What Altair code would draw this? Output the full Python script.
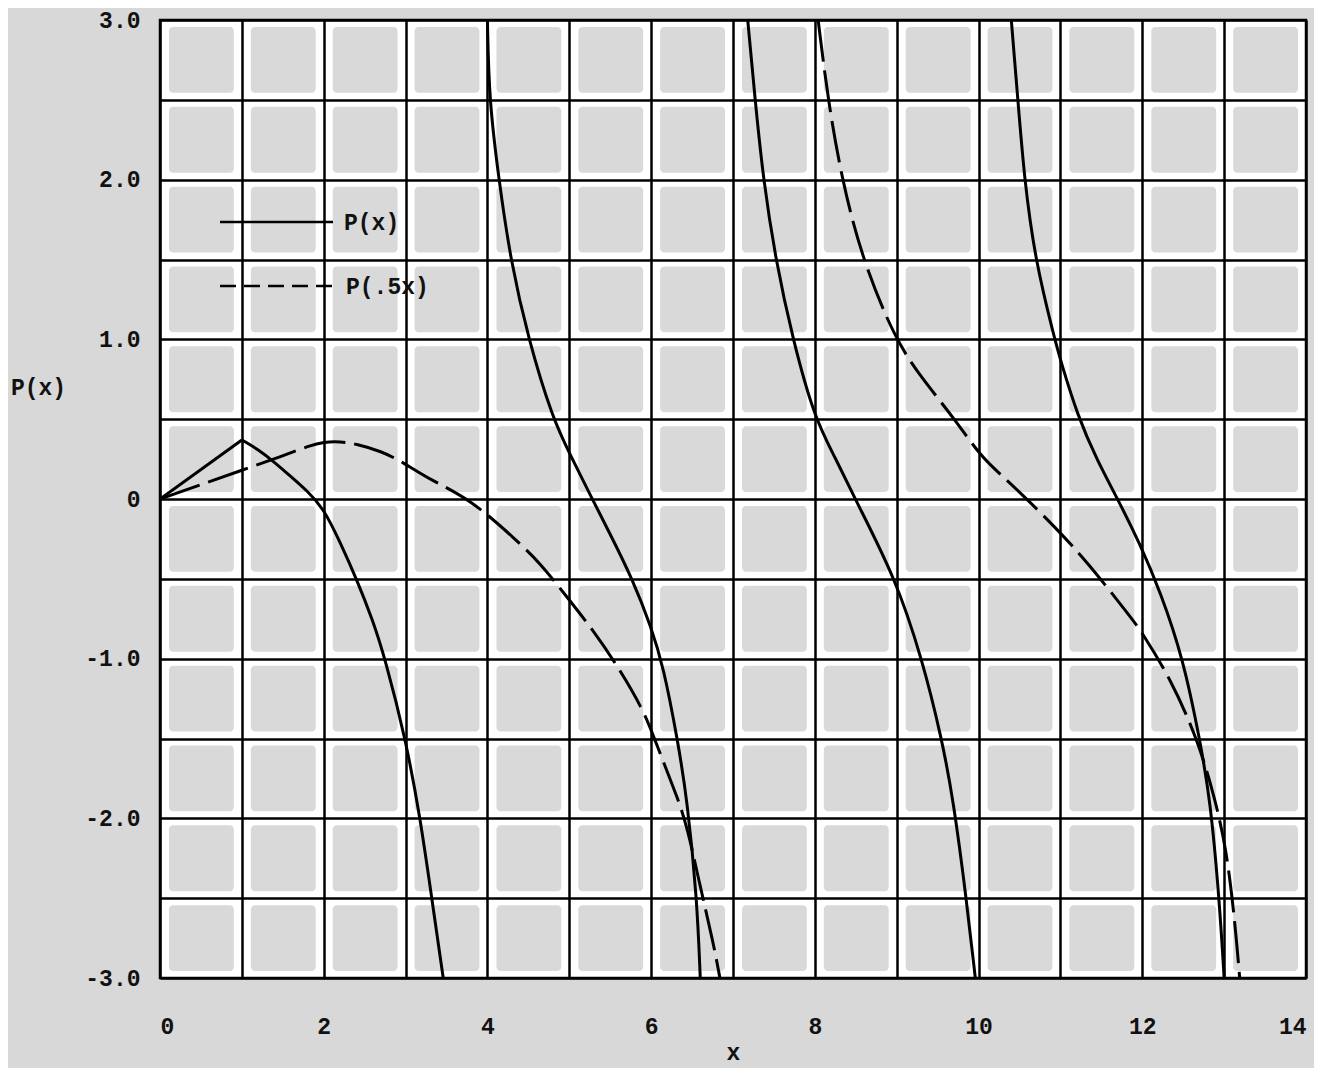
import altair as alt
import pandas as pd

# ---------------- data ----------------
# P(x)  (solid curve), one pair of lists per branch
px_b1_x = [0.0, 1.0]
px_b1_y = [0.0, 0.37]
px_b2_x = [1.0, 1.2, 1.4, 1.6, 1.8, 2.0, 2.2, 2.4, 2.6, 2.75, 3.0, 3.18, 3.32, 3.46]
px_b2_y = [0.37, 0.31, 0.23, 0.14, 0.05, -0.06, -0.27, -0.5, -0.76, -1.0, -1.5, -2.0, -2.5, -3.0]
px_b3_x = [4.0, 4.02, 4.14, 4.28, 4.5, 4.8, 5.0, 5.28, 5.5, 5.77, 6.0, 6.15, 6.32, 6.44, 6.56, 6.6]
px_b3_y = [3.0, 2.5, 2.0, 1.5, 1.0, 0.5, 0.29, 0.0, -0.22, -0.5, -0.8, -1.05, -1.5, -1.88, -2.5, -3.0]
px_b4_x = [7.18, 7.27, 7.37, 7.52, 7.73, 8.0, 8.25, 8.49, 8.98, 9.31, 9.55, 9.69, 9.85, 9.96]
px_b4_y = [3.0, 2.5, 2.0, 1.5, 1.0, 0.5, 0.26, 0.0, -0.49, -1.0, -1.5, -1.88, -2.5, -3.0]
px_b5_x = [10.4, 10.48, 10.56, 10.69, 10.93, 11.0, 11.21, 11.45, 11.7, 11.97, 12.22, 12.5, 12.7, 12.83, 12.94, 13.0]
px_b5_y = [3.0, 2.5, 2.0, 1.5, 1.0, 0.87, 0.52, 0.24, 0.0, -0.28, -0.58, -1.0, -1.5, -1.88, -2.5, -3.0]

# P(.5x)  (dashed curve)
ph_b1_x = [0.0, 0.5, 1.0, 1.5, 1.83, 2.0, 2.2, 2.4, 2.7, 2.97, 3.3, 3.79, 4.36, 4.64, 4.92,
           5.29, 5.62, 5.9, 6.01, 6.19, 6.32, 6.44, 6.6, 6.76, 6.84]
ph_b1_y = [0.0, 0.09, 0.18, 0.27, 0.335, 0.357, 0.36, 0.345, 0.3, 0.23, 0.12, 0.0, -0.26, -0.4, -0.58,
           -0.82, -1.07, -1.32, -1.46, -1.7, -1.87, -2.05, -2.43, -2.78, -3.0]
ph_b2_x = [8.04, 8.16, 8.33, 8.58, 8.98, 9.3, 9.71, 10.02, 10.3, 10.59, 10.96, 11.32, 11.89, 12.0,
           12.34, 12.68, 12.89, 13.03, 13.13, 13.19]
ph_b2_y = [3.0, 2.5, 2.0, 1.5, 1.0, 0.76, 0.5, 0.27, 0.14, 0.0, -0.19, -0.39, -0.76, -0.84,
           -1.12, -1.51, -1.88, -2.2, -2.64, -3.0]

# axis ticks / grid
x_grid = list(range(0, 15))
y_grid = [-3.0, -2.5, -2.0, -1.5, -1.0, -0.5, 0.0, 0.5, 1.0, 1.5, 2.0, 2.5, 3.0]
legend_labels = ["P(x)", "P(.5x)"]

# ---------------- tables ----------------
def frame(xs, ys, seg):
    return pd.DataFrame({"x": xs, "y": ys, "seg": seg})

solid_straight = frame(px_b1_x, px_b1_y, "a")
solid = pd.concat([
    frame(px_b2_x, px_b2_y, "b"),
    frame(px_b3_x, px_b3_y, "c"), frame(px_b4_x, px_b4_y, "d"),
    frame(px_b5_x, px_b5_y, "e"),
])
dashed = pd.concat([frame(ph_b1_x, ph_b1_y, "a"), frame(ph_b2_x, ph_b2_y, "b")])

cells = pd.DataFrame(
    [{"x": gx, "x2": gx + 1, "y": gy, "y2": gy + 0.5}
     for gx in x_grid[:-1] for gy in y_grid[:-1]]
)

# ---------------- styling ----------------
FONT = "Liberation Mono"
FS = 23
W, H = 1146, 958
xs = alt.Scale(domain=[0, 14], nice=False, zero=False)
ys = alt.Scale(domain=[-3, 3], nice=False, zero=False)

x_axis = alt.Axis(
    values=x_grid, format="d",
    labelExpr="datum.value % 2 == 0 ? datum.label : ''",
    grid=True, ticks=False, domain=False, labelPadding=37,
    title="x", titleY=81, titleBaseline="alphabetic",
)
y_axis = alt.Axis(
    values=y_grid,
    labelExpr="datum.value % 1 != 0 ? '' : (datum.value == 0 ? '0' : "
              "(datum.value < 0 ? '-' : '') + format(abs(datum.value), '.1f'))",
    grid=True, ticks=False, domain=False, labelPadding=20,
    title="P(x)", titleAngle=0, titleX=-122, titleY=367,
    titleAlign="center", titleBaseline="middle",
)

def X(field="x"):
    return alt.X(f"{field}:Q", scale=xs, axis=x_axis)

def Y(field="y"):
    return alt.Y(f"{field}:Q", scale=ys, axis=y_axis)

cell_layer = alt.Chart(cells).mark_rect(
    color="#d9d9d9", xOffset=9, x2Offset=-8, yOffset=-7, y2Offset=7, cornerRadius=4
).encode(x=X(), x2="x2:Q", y=Y(), y2="y2:Q")

straight_layer = alt.Chart(solid_straight).mark_line(
    color="black", strokeWidth=3, clip=True
).encode(x=X(), y=Y(), detail="seg:N")

solid_layer = alt.Chart(solid).mark_line(
    color="black", strokeWidth=3, interpolate="basis", clip=True
).encode(x=X(), y=Y(), detail="seg:N")

dashed_layer = alt.Chart(dashed).mark_line(
    color="black", strokeWidth=3, interpolate="basis", clip=True, strokeDash=[42, 9]
).encode(x=X(), y=Y(), detail="seg:N")

leg1 = pd.DataFrame({"label": [legend_labels[0]]})
leg2 = pd.DataFrame({"label": [legend_labels[1]]})

leg1_line = alt.Chart(leg1).mark_rule(color="black", strokeWidth=2.5).encode(
    x=alt.value(60), x2=alt.value(173), y=alt.value(202))
leg1_text = alt.Chart(leg1).mark_text(
    align="left", baseline="middle", font=FONT, fontSize=FS, fontWeight="bold", color="#111"
).encode(x=alt.value(184), y=alt.value(203), text="label:N")
leg2_line = alt.Chart(leg2).mark_rule(color="black", strokeWidth=2.5, strokeDash=[16, 8]).encode(
    x=alt.value(60), x2=alt.value(180), y=alt.value(266))
leg2_text = alt.Chart(leg2).mark_text(
    align="left", baseline="middle", font=FONT, fontSize=FS, fontWeight="bold", color="#111"
).encode(x=alt.value(186), y=alt.value(267), text="label:N")

chart = alt.layer(
    cell_layer, straight_layer, solid_layer, dashed_layer,
    leg1_line, leg1_text, leg2_line, leg2_text
).properties(
    width=W, height=H,
    autosize=alt.AutoSizeParams(type="none"),
    padding={"left": 152, "top": 12, "right": 8, "bottom": 90},
    background="#d8d8d8",
).configure_view(
    fill="white", stroke="black", strokeWidth=2.5
).configure_axis(
    gridColor="black", gridWidth=2.5, gridOpacity=1,
    labelFont=FONT, labelFontSize=FS, labelColor="#111", labelFontWeight="bold",
    titleFont=FONT, titleFontSize=FS, titleColor="#111", titleFontWeight="bold",
)

chart.save("out.html", embed_options={"renderer": "svg", "actions": False})
